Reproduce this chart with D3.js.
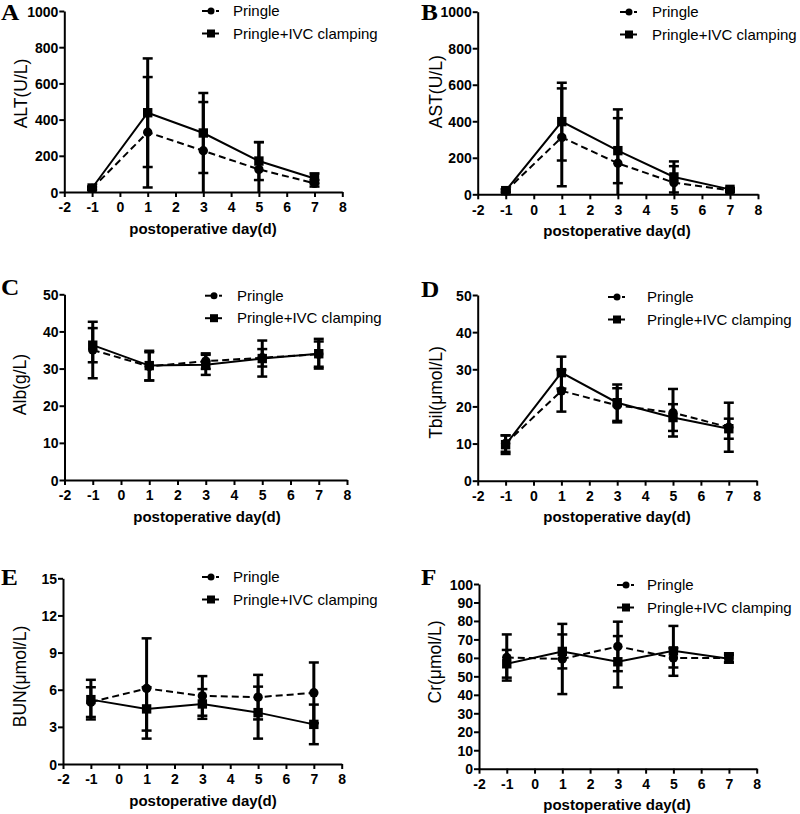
<!DOCTYPE html>
<html><head><meta charset="utf-8">
<script src="https://cdn.jsdelivr.net/npm/d3@7"></script>
<style>body{margin:0;background:#fff}svg{display:block}</style>
</head><body>
<svg id="chart" width="800" height="814"></svg>
<script>
const days = [-1, 1, 3, 5, 7];
const xTicks = [-2, -1, 0, 1, 2, 3, 4, 5, 6, 7, 8];
const seriesNames = ["Pringle", "Pringle+IVC clamping"];

// A: ALT
const altPringle = [20, 330, 228, 125, 48];
const altPringleSD = [8, 305, 269, 150, 18];
const altIVC = [22, 438, 326, 171, 75];
const altIVCSD = [8, 300, 221, 105, 28];
const altTicks = [0, 200, 400, 600, 800, 1000];
// B: AST
const astPringle = [18, 312, 170, 64, 22];
const astPringleSD = [8, 268, 295, 90, 8];
const astIVC = [20, 398, 239, 95, 27];
const astIVCSD = [8, 213, 178, 85, 8];
const astTicks = [0, 200, 400, 600, 800, 1000];
// C: Alb
const albPringle = [35.0, 30.6, 32.0, 32.9, 33.9];
const albPringleSD = [7.6, 3.8, 2.1, 2.35, 3.4];
const albIVC = [36.3, 30.8, 31.0, 32.7, 34.0];
const albIVCSD = [4.6, 4.0, 2.7, 4.85, 4.0];
const albTicks = [0, 10, 20, 30, 40, 50];
// D: Tbil
const tbilPringle = [10.0, 24.2, 20.3, 18.3, 14.4];
const tbilPringleSD = [2.2, 5.6, 4.6, 6.4, 6.6];
const tbilIVC = [9.7, 29.1, 21.0, 17.0, 14.0];
const tbilIVCSD = [2.5, 4.3, 4.9, 3.6, 2.7];
const tbilTicks = [0, 10, 20, 30, 40, 50];
// E: BUN
const bunPringle = [5.0, 6.1, 5.5, 5.4, 5.75];
const bunPringleSD = [1.2, 4.05, 1.6, 1.8, 2.45];
const bunIVC = [5.2, 4.45, 4.85, 4.15, 3.2];
const bunIVCSD = [1.6, 1.75, 1.2, 2.1, 1.6];
const bunTicks = [0, 3, 6, 9, 12, 15];
// F: Cr
const crPringle = [60.2, 59.4, 66.2, 60.0, 60.0];
const crPringleSD = [12.5, 19.0, 13.4, 5.2, 2.5];
const crIVC = [56.8, 63.5, 57.9, 63.8, 59.5];
const crIVCSD = [7.5, 9.2, 13.9, 13.5, 2.0];
const crTicks = [0, 10, 20, 30, 40, 50, 60, 70, 80, 90, 100];

const panels = [
  {letter:"A", ylabel:"ALT(U/L)", ticks:altTicks, p:altPringle, psd:altPringleSD, v:altIVC, vsd:altIVCSD,
   x0:64.3, x1:342.3, yT:11, yB:192, lx:1, ly:20, ylx:21, yly:93.5, xlx:203, legSym:202, legTx:233, legY:16},
  {letter:"B", ylabel:"AST(U/L)", ticks:astTicks, p:astPringle, psd:astPringleSD, v:astIVC, vsd:astIVCSD,
   x0:477.7, x1:758, yT:11.7, yB:194.3, lx:421, ly:20, ylx:436, yly:91.7, xlx:617, legSym:620, legTx:652, legY:17},
  {letter:"C", ylabel:"Alb(g/L)", ticks:albTicks, p:albPringle, psd:albPringleSD, v:albIVC, vsd:albIVCSD,
   x0:64.5, x1:347, yT:294.3, yB:480, lx:1, ly:295, ylx:20, yly:384.5, xlx:207, legSym:205, legTx:237, legY:300.7},
  {letter:"D", ylabel:"Tbil(\u03bcmol/L)", ticks:tbilTicks, p:tbilPringle, psd:tbilPringleSD, v:tbilIVC, vsd:tbilIVCSD,
   x0:477.7, x1:756.7, yT:295, yB:480.7, lx:421, ly:297, ylx:436, yly:392.5, xlx:617, legSym:608, legTx:647, legY:302},
  {letter:"E", ylabel:"BUN(\u03bcmol/L)", ticks:bunTicks, p:bunPringle, psd:bunPringleSD, v:bunIVC, vsd:bunIVCSD,
   x0:63, x1:341.7, yT:578.3, yB:764, lx:1, ly:585, ylx:20, yly:676.5, xlx:203, legSym:202, legTx:233, legY:582},
  {letter:"F", ylabel:"Cr(\u03bcmol/L)", ticks:crTicks, p:crPringle, psd:crPringleSD, v:crIVC, vsd:crIVCSD,
   x0:479, x1:756.7, yT:584, yB:768.7, lx:421, ly:585, ylx:435, yly:662, xlx:617, legSym:617, legTx:647, legY:590}
];

const svg = d3.select("#chart");
const SANS = "'Liberation Sans', Arial, sans-serif";
const fmt = d => String(d);

panels.forEach(P => {
  const g = svg.append("g");
  const x = d3.scaleLinear().domain([-2, 8]).range([P.x0, P.x1]);
  const ymax = P.ticks[P.ticks.length - 1];
  const y = d3.scaleLinear().domain([0, ymax]).range([P.yB, P.yT]);

  // axes
  const xa = g.append("g").attr("transform", `translate(0,${P.yB})`)
    .call(d3.axisBottom(x).tickValues(xTicks).tickFormat(fmt).tickSize(5).tickPadding(5.5).tickSizeOuter(0));
  const ya = g.append("g").attr("transform", `translate(${P.x0},0)`)
    .call(d3.axisLeft(y).tickValues(P.ticks).tickFormat(fmt).tickSize(5).tickPadding(1).tickSizeOuter(0));
  [xa, ya].forEach(a => {
    a.select(".domain").attr("stroke", "#000").attr("stroke-width", 2);
    a.selectAll(".tick line").attr("stroke", "#000").attr("stroke-width", 2);
    a.selectAll(".tick text").attr("font-family", SANS).attr("font-weight", "bold")
      .attr("font-size", 14).attr("fill", "#000");
  });
  ya.selectAll(".tick text").attr("dy", "0.36em");

  // labels
  g.append("text").attr("x", P.lx).attr("y", P.ly).text(P.letter)
    .attr("font-family", "'Liberation Serif', 'Times New Roman', serif").attr("font-weight", "bold")
    .attr("font-size", 23).attr("transform", `translate(${P.lx},${P.ly}) scale(1.1,1) translate(${-P.lx},${-P.ly})`);
  g.append("text").attr("transform", `translate(${P.ylx},${P.yly}) rotate(-90)`)
    .attr("text-anchor", "middle").attr("dy", "0.36em").text(P.ylabel)
    .attr("font-family", SANS).attr("font-size", 17.5);
  g.append("text").attr("x", P.xlx).attr("y", P.yB + 41.5).attr("text-anchor", "middle")
    .text("postoperative day(d)").attr("font-family", SANS).attr("font-weight", "bold").attr("font-size", 15);

  const series = [
    {name: seriesNames[0], m: P.p, sd: P.psd, dash: "7,4", shape: "circle"},
    {name: seriesNames[1], m: P.v, sd: P.vsd, dash: null, shape: "square"}
  ];

  const line = d3.line().x(d => x(d.day)).y(d => y(d.m));
  series.forEach(S => {
    const pts = days.map((d, i) => ({day: d, m: S.m[i], sd: S.sd[i]}));
    g.append("path").datum(pts).attr("d", line).attr("fill", "none")
      .attr("stroke", "#000").attr("stroke-width", 2)
      .attr("stroke-dasharray", S.dash);
    S.pts = pts;
  });
  series.forEach(S => {
    S.pts.forEach(p => {
      const hi = p.m + p.sd, lo = Math.max(0, p.m - p.sd);
      const cx = x(p.day);
      g.append("line").attr("x1", cx).attr("x2", cx).attr("y1", y(hi)).attr("y2", y(lo))
        .attr("stroke", "#000").attr("stroke-width", 3);
      g.append("line").attr("x1", cx - 5).attr("x2", cx + 5).attr("y1", y(hi)).attr("y2", y(hi))
        .attr("stroke", "#000").attr("stroke-width", 2.5);
      if (p.m - p.sd > 0)
        g.append("line").attr("x1", cx - 5).attr("x2", cx + 5).attr("y1", y(lo)).attr("y2", y(lo))
          .attr("stroke", "#000").attr("stroke-width", 2.5);
    });
  });
  function marker(sel, shape, cx, cy) {
    if (shape === "circle") sel.append("circle").attr("cx", cx).attr("cy", cy).attr("r", 4.7).attr("fill", "#000");
    else sel.append("rect").attr("x", cx - 4.7).attr("y", cy - 4.7).attr("width", 9.4).attr("height", 9.4).attr("fill", "#000");
  }
  series.forEach(S => S.pts.forEach(p => marker(g, S.shape, x(p.day), y(p.m))));

  // legend
  series.forEach((S, i) => {
    const by = P.legY + i * 22.5;
    const cy = by - 5;
    const sx = P.legSym;
    if (S.dash) {
      g.append("line").attr("x1", sx).attr("x2", sx + 8).attr("y1", cy).attr("y2", cy).attr("stroke", "#000").attr("stroke-width", 2);
      g.append("line").attr("x1", sx + 14).attr("x2", sx + 17).attr("y1", cy).attr("y2", cy).attr("stroke", "#000").attr("stroke-width", 2);
    } else {
      g.append("line").attr("x1", sx).attr("x2", sx + 17).attr("y1", cy).attr("y2", cy).attr("stroke", "#000").attr("stroke-width", 2);
    }
    if (S.shape === "circle") g.append("circle").attr("cx", sx + 9).attr("cy", cy).attr("r", 3.5).attr("fill", "#000");
    else g.append("rect").attr("x", sx + 5).attr("y", cy - 4).attr("width", 8).attr("height", 8).attr("fill", "#000");
    g.append("text").attr("x", P.legTx).attr("y", by).text(S.name)
      .attr("font-family", SANS).attr("font-size", 15);
  });
});
</script>
</body></html>
